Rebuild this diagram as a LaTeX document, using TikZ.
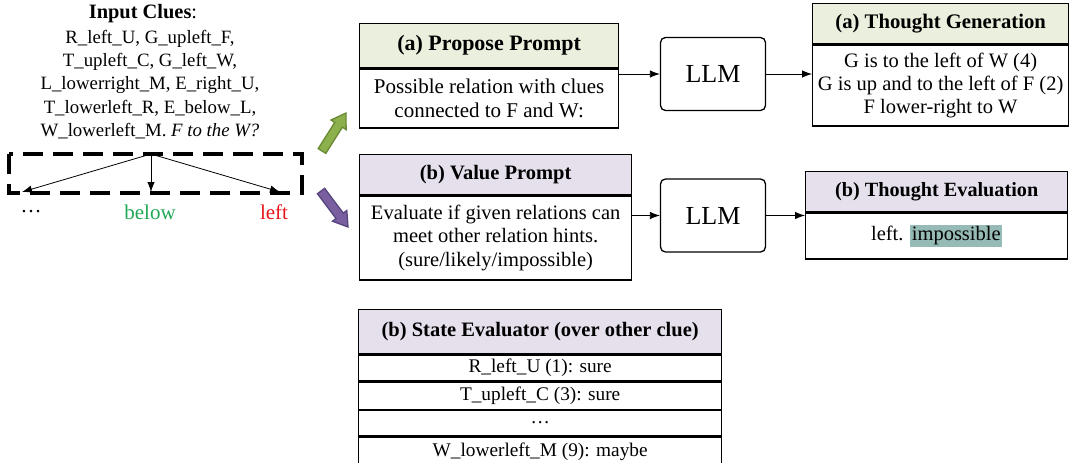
\documentclass[tikz,border=0pt]{standalone}
\usepackage{fontspec}
\setmainfont{Liberation Serif}
\usetikzlibrary{arrows.meta,calc}
\definecolor{hga}{HTML}{EBF0DE}
\definecolor{hgb}{HTML}{E5E0EC}
\definecolor{hil}{HTML}{96BAB6}
\definecolor{garrow}{HTML}{8CB04C}
\definecolor{garrowd}{HTML}{6A8A35}
\definecolor{parrow}{HTML}{7A5FA0}
\definecolor{parrowd}{HTML}{574580}
\definecolor{belowc}{HTML}{1FA855}
\definecolor{leftc}{HTML}{E8141B}
\newcommand{\fs}[1]{\fontsize{#1}{24}\selectfont}
\begin{document}
\begin{tikzpicture}[x=1pt,y=-1pt,
 hdr/.style={draw, line width=1.3pt, font=\bfseries, inner sep=0pt, anchor=north west},
 body/.style={draw, line width=1.3pt, align=center, inner sep=0pt, anchor=north},
 llm/.style={draw, line width=1.3pt, rounded corners=5pt, minimum width=105pt, minimum height=73pt, font=\fontsize{26}{30}\selectfont},
 arr/.style={-{Latex[length=10pt,width=7.5pt]}, line width=0.8pt},
 barr/.style={line width=1.3pt, line join=miter}]
\useasboundingbox (0,0) rectangle (1072,463);

% input clues
\node[font=\fs{20.4}] (title) at (143,14) {\textbf{Input Clues}:};
\node[font=\fontsize{18.8}{23.3}\selectfont, align=center] (clues) at (150,84.5) {R\_left\_U, G\_upleft\_F,\\T\_upleft\_C, G\_left\_W,\\L\_lowerright\_M, E\_right\_U,\\T\_lowerleft\_R, E\_below\_L,\\W\_lowerleft\_M. \textit{F to the W?}};
\draw[line width=3.3pt, dash pattern=on 20pt off 10pt] (9,154) rectangle (302,193);
\coordinate (root) at (151,154);
\coordinate (c1) at (22,192);
\coordinate (c2) at (151,192);
\coordinate (c3) at (280,192);
\draw[arr] (root) -- (c1);
\draw[arr] (root) -- (c2);
\draw[arr] (root) -- (c3);
\node[font=\fs{21}] (l1) at (31,212) {\dots};
\node[font=\fs{21}, text=belowc] (l2) at (150,212) {below};
\node[font=\fs{21}, text=leftc] (l3) at (274,212) {left};

% block arrows
\coordinate (gT) at (322,151);
\coordinate (gP) at (346,113);
\coordinate (gH) at ($(gP)!14pt!(gT)$);
\filldraw[barr, fill=garrow, draw=garrowd]
  ($(gT)!4.5pt!90:(gP)$) -- ($(gH)!4.5pt!-90:(gT)$) -- ($(gH)!9pt!-90:(gT)$) -- (gP)
  -- ($(gH)!9pt!90:(gT)$) -- ($(gH)!4.5pt!90:(gT)$) -- ($(gT)!4.5pt!-90:(gP)$) -- cycle;
\coordinate (pT) at (321,191);
\coordinate (pP) at (348,227);
\coordinate (pH) at ($(pP)!14pt!(pT)$);
\filldraw[barr, fill=parrow, draw=parrowd]
  ($(pT)!4.5pt!90:(pP)$) -- ($(pH)!4.5pt!-90:(pT)$) -- ($(pH)!9pt!-90:(pT)$) -- (pP)
  -- ($(pH)!9pt!90:(pT)$) -- ($(pH)!4.5pt!90:(pT)$) -- ($(pT)!4.5pt!-90:(pP)$) -- cycle;

% propose prompt
\node[hdr, fill=hga, minimum width=259pt, minimum height=44pt, font=\fs{22}\bfseries] (ph) at (359,23) {(a) Propose Prompt};
\node[body, minimum width=259pt, minimum height=59pt, font=\fs{21}] (pb) at (ph.south) {Possible relation with clues\\connected to F and W:};
\node[llm] (llm1) at (713,74) {LLM};
\node[hdr, fill=hga, minimum width=256pt, minimum height=40pt, font=\fs{20.7}\bfseries] (tgh) at (812,3) {(a) Thought Generation};
\node[body, minimum width=256pt, minimum height=81pt, font=\fontsize{20.5}{23.3}\selectfont] (tgb) at (tgh.south) {G is to the left of W (4)\\G is up and to the left of F (2)\\F lower-right to W};
\draw[arr] (pb.east |- llm1.west) -- (llm1.west);
\draw[arr] (llm1.east) -- (llm1.east -| tgb.west);

% value prompt
\node[hdr, fill=hgb, minimum width=272pt, minimum height=40pt, font=\fs{20.5}\bfseries] (vh) at (359,154) {(b) Value Prompt};
\node[body, minimum width=272pt, minimum height=84pt, font=\fontsize{20.5}{23.5}\selectfont] (vb) at (vh.south) {Evaluate if given relations can\\meet other relation hints.\\(sure/likely/impossible)};
\node[llm] (llm2) at (713,215.5) {LLM};
\node[hdr, fill=hgb, minimum width=262pt, minimum height=40pt, font=\fs{20.2}\bfseries] (teh) at (805,171) {(b) Thought Evaluation};
\node[body, minimum width=262pt, minimum height=46pt, font=\fs{20.5}] (teb) at (teh.south) {left. {\setlength{\fboxsep}{1.5pt}\colorbox{hil}{impossible}}};
\draw[arr] (vb.east |- llm2.west) -- (llm2.west);
\draw[arr] (llm2.east) -- (llm2.east -| teb.west);

% state evaluator
\node[hdr, fill=hgb, minimum width=363pt, minimum height=44pt, font=\fs{20.5}\bfseries] (seh) at (358,309) {(b) State Evaluator (over other clue)};
\node[body, minimum width=363pt, minimum height=26pt, font=\fs{19.3}] (r1) at (seh.south) {R\_left\_U (1): sure};
\node[body, minimum width=363pt, minimum height=27pt, font=\fs{19.3}] (r2) at (r1.south) {T\_upleft\_C (3): sure};
\node[body, minimum width=363pt, minimum height=25pt, font=\fs{19.3}] (r3) at (r2.south) {\dots};
\node[body, minimum width=363pt, minimum height=30pt, font=\fs{19.3}] (r4) at (r3.south) {W\_lowerleft\_M (9): maybe};
\end{tikzpicture}
\end{document}
